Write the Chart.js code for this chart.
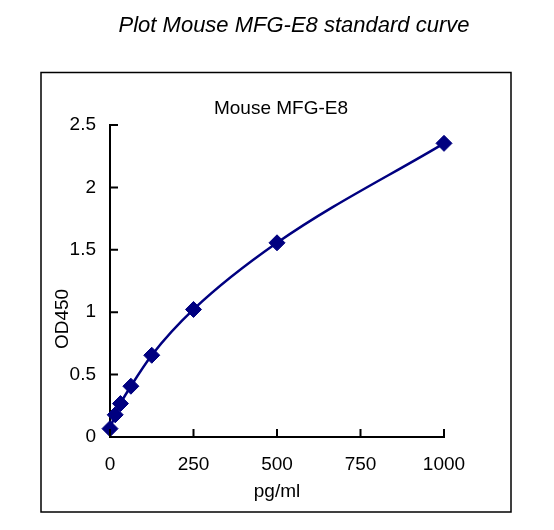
<!DOCTYPE html>
<html>
<head>
<meta charset="utf-8">
<script src="https://cdn.jsdelivr.net/npm/chart.js@4.4.1/dist/chart.umd.min.js"></script>
<style>
  html, body { margin: 0; padding: 0; background: #fff; }
  #wrap { width: 554px; height: 530px; position: relative; }
</style>
</head>
<body>
<div id="wrap"><canvas id="c" width="554" height="530"></canvas></div>
<script>
// ---- data ----
const concentrations = [0, 15.6, 31.25, 62.5, 125, 250, 500, 1000];   // pg/ml
const od450 = [0.067, 0.178, 0.268, 0.407, 0.655, 1.022, 1.556, 2.353];
const xTicks = [0, 250, 500, 750, 1000];
const yTicks = [0, 0.5, 1, 1.5, 2, 2.5];
const mainTitle = 'Plot Mouse MFG-E8 standard curve';
const chartTitle = 'Mouse MFG-E8';
const xTitle = 'pg/ml';
const yTitle = 'OD450';

const FONT = '"Liberation Sans", Arial, sans-serif';
const NAVY = '#000080';

const points = concentrations.map((x, i) => ({ x: x, y: od450[i] }));

const decor = {
  id: 'decor',
  beforeDraw(chart) {
    const ctx = chart.ctx;
    ctx.save();
    ctx.fillStyle = '#fff';
    ctx.fillRect(0, 0, chart.width, chart.height);
    ctx.restore();
  },
  afterDraw(chart) {
    const ctx = chart.ctx;
    const xs = chart.scales.x, ys = chart.scales.y;
    const ca = chart.chartArea;
    ctx.save();
    // outer frame
    ctx.strokeStyle = '#000';
    ctx.lineWidth = 1.5;
    ctx.strokeRect(41, 72.5, 470, 439.5);
    // inward tick marks
    ctx.lineWidth = 2;
    ctx.beginPath();
    xTicks.forEach(v => {
      const px = xs.getPixelForValue(v);
      ctx.moveTo(px, ca.bottom);
      ctx.lineTo(px, ca.bottom - 8);
    });
    yTicks.forEach(v => {
      const py = ys.getPixelForValue(v);
      ctx.moveTo(ca.left, py);
      ctx.lineTo(ca.left + 8, py);
    });
    ctx.stroke();
    // titles
    ctx.fillStyle = '#000';
    ctx.textAlign = 'center';
    ctx.textBaseline = 'alphabetic';
    ctx.font = 'italic 22px ' + FONT;
    ctx.fillText(mainTitle, 294, 32);
    ctx.font = '19px ' + FONT;
    ctx.fillText(chartTitle, 281, 114);
    // y axis title
    ctx.translate(63, 319);
    ctx.rotate(-Math.PI / 2);
    ctx.textBaseline = 'middle';
    ctx.fillText(yTitle, 0, 0);
    ctx.restore();
  }
};

new Chart(document.getElementById('c'), {
  type: 'line',
  data: {
    datasets: [{
      data: points,
      borderColor: NAVY,
      backgroundColor: NAVY,
      borderWidth: 2.5,
      cubicInterpolationMode: 'monotone',
      pointStyle: 'rectRot',
      pointRadius: 8,
      pointHoverRadius: 8,
      pointBackgroundColor: NAVY,
      pointBorderColor: NAVY,
      pointBorderWidth: 1,
      clip: false
    }]
  },
  options: {
    responsive: false,
    animation: false,
    devicePixelRatio: 1,
    layout: { padding: { top: 125, left: 0, right: 110, bottom: 0 } },
    plugins: {
      legend: { display: false },
      title: { display: false },
      tooltip: { enabled: false }
    },
    scales: {
      x: {
        type: 'linear',
        min: 0, max: 1000,
        afterFit(s) { s.height = 93; },
        afterBuildTicks(s) { s.ticks = xTicks.map(v => ({ value: v })); },
        grid: { display: false, drawTicks: false },
        border: { display: true, color: '#000', width: 2 },
        ticks: { color: '#000', font: { family: FONT, size: 19 }, padding: 16, maxRotation: 0,
                 callback: v => String(v) },
        title: { display: true, text: xTitle, color: '#000', font: { family: FONT, size: 19 }, padding: { top: 0, bottom: 27 } }
      },
      y: {
        type: 'linear',
        min: 0, max: 2.5,
        afterFit(s) { s.width = 110; },
        afterBuildTicks(s) { s.ticks = yTicks.map(v => ({ value: v })); },
        grid: { display: false, drawTicks: false },
        border: { display: true, color: '#000', width: 2 },
        ticks: { color: '#000', font: { family: FONT, size: 19 }, padding: 14,
                 callback: v => String(v) }
      }
    }
  },
  plugins: [decor]
});
</script>
</body>
</html>
